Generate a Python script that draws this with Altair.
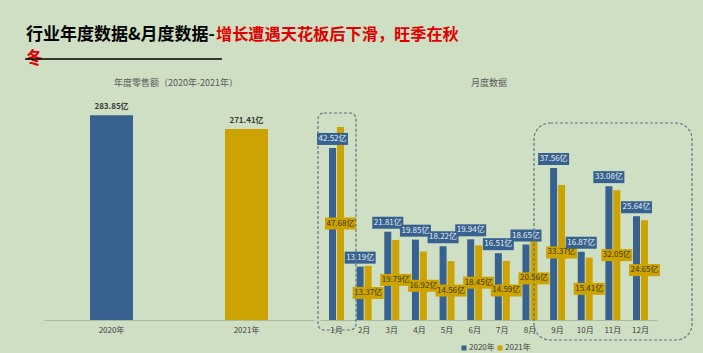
import altair as alt
import pandas as pd

FONT = "Noto Sans CJK SC"
BG = "#cfdfc4"
BLUE = "#37618f"
GOLD = "#cca300"

# ---- data ----
years = ["2020年", "2021年"]
annual_sales = [283.85, 271.41]

months = ["1月", "2月", "3月", "4月", "5月", "6月", "7月", "8月", "9月", "10月", "11月", "12月"]
sales_2020 = [42.52, 13.19, 21.81, 19.85, 18.22, 19.94, 16.51, 18.65, 37.56, 16.87, 33.08, 25.64]
sales_2021 = [47.68, 13.37, 19.79, 16.92, 14.56, 18.45, 14.59, 20.56, 33.37, 15.41, 32.05, 24.65]

title_black = "行业年度数据&月度数据-"
title_red_1 = "增长遭遇天花板后下滑，旺季在秋"
title_red_2 = "冬"
left_title = "年度零售额（2020年-2021年）"
right_title = "月度数据"

annual_df = pd.DataFrame({"year": years, "value": annual_sales})
monthly_df = pd.DataFrame(
    [{"month": m, "year": years[0], "value": v} for m, v in zip(months, sales_2020)]
    + [{"month": m, "year": years[1], "value": v} for m, v in zip(months, sales_2021)]
)

legend = alt.Legend(
    orient="none", legendX=416, legendY=249, direction="horizontal", title=None,
    symbolType="square", symbolSize=25, symbolStrokeWidth=0, labelFontSize=8,
    labelFont=FONT, labelColor="#404040", columnPadding=1, labelOffset=1,
)
color_enc = alt.Color("year:N", scale=alt.Scale(domain=years, range=[BLUE, GOLD]), legend=legend)

axis_kw = dict(
    title=None, ticks=False, labelAngle=0, domainColor="#a9b8a0", orient="bottom",
    labelColor="#404040", labelFontSize=8, labelPadding=6, labelFont=FONT, grid=False,
)

# ---- left panel: annual ----
ax = alt.X("year:N", sort=years,
           scale=alt.Scale(range=[0, 270], paddingInner=0, paddingOuter=0),
           axis=alt.Axis(**axis_kw))
ay = alt.Scale(domain=[100, 302], zero=False)
abase = alt.Chart(annual_df)
abars = abase.mark_bar(width=43).encode(
    x=ax, y=alt.Y("value:Q", scale=ay, axis=None), y2=alt.datum(100), color=color_enc,
)
alabels = abase.transform_calculate(
    label="format(datum.value, '.2f') + '亿'"
).mark_text(
    dy=-4, baseline="bottom", fontSize=8, fontWeight="bold", color="#3b3b3b", font=FONT
).encode(x=ax, y=alt.Y("value:Q", scale=ay, axis=None), text="label:N")

left = alt.layer(abars, alabels)

# ---- right panel: monthly ----
yscale = alt.Scale(domain=[0, 55.6])
xenc = alt.X("month:N", sort=months,
             scale=alt.Scale(range=[276, 613], paddingInner=0.424, paddingOuter=0.309),
             axis=alt.Axis(**axis_kw))
xoff = alt.XOffset("year:N", sort=years, scale=alt.Scale(paddingInner=0, paddingOuter=0))

mbase = alt.Chart(monthly_df).transform_calculate(
    label="format(datum.value, '.2f') + '亿'", half="datum.value / 2"
)
mbars = mbase.mark_bar(width=7).encode(
    x=xenc, xOffset=xoff, y=alt.Y("value:Q", scale=yscale, axis=None), color=color_enc,
)
f20 = mbase.transform_filter(alt.datum.year == years[0])
f21 = mbase.transform_filter(alt.datum.year == years[1])

box21 = f21.mark_bar(width=31, yOffset=-6, y2Offset=6, color=GOLD).encode(
    x=xenc, xOffset=xoff, y=alt.Y("half:Q", scale=yscale, axis=None), y2=alt.Y2("half")
)
txt21 = f21.mark_text(fontSize=8, color="#3a3516", baseline="middle", font=FONT).encode(
    x=xenc, xOffset=xoff, y=alt.Y("half:Q", scale=yscale, axis=None), text="label:N"
)
box20 = f20.mark_bar(width=31, yOffset=-15, y2Offset=-3, color=BLUE).encode(
    x=xenc, xOffset=xoff, y=alt.Y("value:Q", scale=yscale, axis=None), y2=alt.Y2("value")
)
txt20 = f20.mark_text(fontSize=8, color="#e8eef2", baseline="middle", dy=-9, font=FONT).encode(
    x=xenc, xOffset=xoff, y=alt.Y("value:Q", scale=yscale, axis=None), text="label:N"
)

right = alt.layer(mbars, box21, txt21, box20, txt20)

# ---- decorations (pixel positions relative to plot origin) ----
one = alt.Data(values=[{}])
def txt(text, x, y, size, color, weight="normal", align="left"):
    return alt.Chart(one).mark_text(
        text=text, align=align, baseline="middle", fontSize=size, fontWeight=weight,
        color=color, font=FONT,
    ).encode(x=alt.value(x), y=alt.value(y))

h_black = txt(title_black, -18, -60, 17, "#000000", "bold")
h_red1 = txt(title_red_1, 172, -60, 16.2, "#e00000", "bold")
h_red2 = txt(title_red_2, -18, -36, 16.5, "#e00000", "bold")
h_rule = alt.Chart(one).mark_rule(color="#000000", strokeWidth=1.5).encode(
    x=alt.value(-19), x2=alt.value(178), y=alt.value(-36)
)
t_left = txt(left_title, 132, -12, 9, "#595959", align="center")
t_right = txt(right_title, 445, -12, 9, "#595959", align="center")

rect1 = alt.Chart(one).mark_rect(
    filled=False, stroke="#5f7585", strokeWidth=1.2, strokeDash=[3, 2], cornerRadius=6
).encode(x=alt.value(274), x2=alt.value(312), y=alt.value(18), y2=alt.value(235))
rect2 = alt.Chart(one).mark_rect(
    filled=False, stroke="#5f7585", strokeWidth=1.2, strokeDash=[3, 2], cornerRadius=16
).encode(x=alt.value(490), x2=alt.value(648), y=alt.value(28), y2=alt.value(245))

deco = alt.layer(h_black, h_red1, h_red2, h_rule, t_left, t_right, rect1, rect2)

chart = alt.layer(left, right, deco).resolve_scale(
    x="independent", y="independent"
).resolve_axis(x="independent", y="independent").properties(
    width=613, height=225,
    autosize=alt.AutoSizeParams(type="none"),
    padding={"left": 44, "top": 95, "right": 46, "bottom": 33},
    background=BG,
).configure(font=FONT).configure_view(stroke="transparent", strokeWidth=0).configure_axis(grid=False)

chart.save("out.html", embed_options={"renderer": "svg", "actions": False})
